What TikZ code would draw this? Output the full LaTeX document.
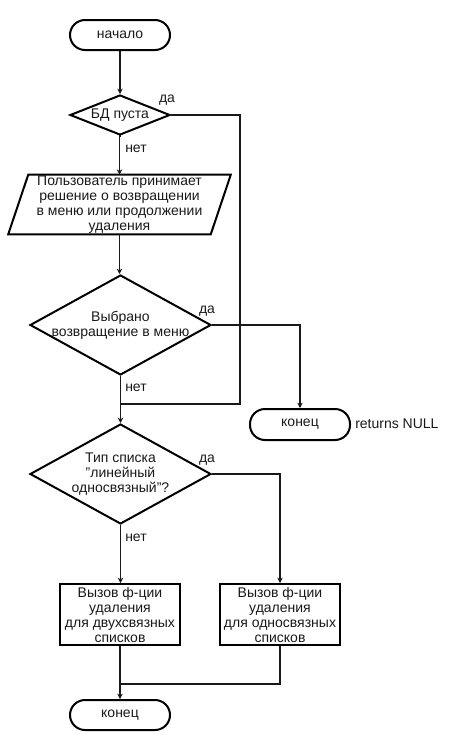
\documentclass[tikz,border=0pt]{standalone}
\usepackage{fontspec}
\setmainfont{Liberation Sans}
\usetikzlibrary{shapes.geometric,arrows.meta}
\begin{document}
\begin{tikzpicture}[x=0.75pt,y=-0.75pt,
  every node/.style={font=\fontsize{10.5}{11.25}\selectfont, text=black!90},
  term/.style={draw, line width=1.5pt, rectangle, rounded corners=11.25pt, minimum width=75pt, minimum height=22.5pt, inner sep=0pt},
  decision/.style={draw, line width=1.5pt, diamond, inner sep=0pt},
  iobox/.style={rectangle, minimum width=151.5pt, minimum height=44.25pt, inner sep=0pt, align=center},
  procbox/.style={draw, line width=1.5pt, rectangle, minimum width=90pt, minimum height=45.75pt, inner sep=0pt, align=center},
  conn/.style={line width=1.3pt, draw=black!90},
  arr/.style={conn, -{Stealth[length=4pt,width=4pt]}},
  lbl/.style={inner sep=0pt}
]
\useasboundingbox (0,0) rectangle (470,750);

\node[term] (start) at (120,35) {начало};
\node[decision, minimum width=75pt, minimum height=30pt,
  label={[lbl]center:БД пуста}] (d1) at (120,115) {};
\node[iobox] (io) at (119.5,204.5) {Пользователь принимает\\решение о возвращении\\в меню или продолжении\\удаления};
\draw[line width=1.5pt] ([xshift=-7.5pt]io.south west) -- ([xshift=-7.5pt]io.south east)
  -- ([xshift=7.5pt]io.north east) -- ([xshift=7.5pt]io.north west) -- cycle;
\node[decision, minimum width=135.75pt, minimum height=75pt,
  label={[lbl,align=center]center:Выбрано\\возвращение в меню}] (d2) at (120.5,325) {};
\node[term, minimum height=23.25pt] (end1) at (300,424.5) {конец};
\node[lbl, anchor=west] (ret) at (355,424) {returns NULL};
\node[decision, minimum width=135.75pt, minimum height=75pt,
  label={[lbl,align=center]center:Тип списка\\"линейный\\односвязный"?}] (d3) at (120.5,474) {};
\node[procbox] (b1) at (120,614.5) {Вызов ф-ции\\удаления\\для двухсвязных\\списков};
\node[procbox] (b2) at (280,614.5) {Вызов ф-ции\\удаления\\для односвязных\\списков};
\node[term] (end2) at (120,715) {конец};

\coordinate (r1) at (240,404);
\coordinate (j1) at (120,404);
\coordinate (j2) at (120,684);

\draw[arr] (start.south) -- (d1.north);
\draw[arr] (d1.south) -- (io.south |- d1.south) -- (io.north);
\draw[arr] (io.south) -- (io.south |- d2.north);
\draw[arr] (d2.south) -- (d2.south |- d3.north);
\draw[conn] (d1.east) -| (r1) -- (j1);
\draw[arr] (d2.east) -| (end1.north);
\draw[arr] (d3.east) -| (b2.north);
\draw[arr] (d3.south) -- (d3.south |- b1.north);
\draw[arr] (b1.south) -- (end2.north);
\draw[conn] (b2.south) |- (j2);

\node[lbl] (l1) at (167,100) {да};
\node[lbl] (l2) at (136,149) {нет};
\node[lbl] (l3) at (207,311) {да};
\node[lbl] (l4) at (136,388) {нет};
\node[lbl] (l5) at (207,460) {да};
\node[lbl] (l6) at (136,538) {нет};
\end{tikzpicture}
\end{document}
